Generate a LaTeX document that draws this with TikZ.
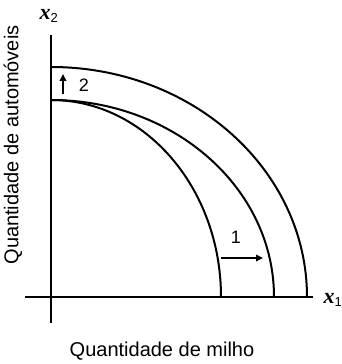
\documentclass[tikz,border=0pt]{standalone}
\usepackage{fontspec}
\setmainfont{Liberation Sans}
\newfontfamily\serifx{Liberation Serif}
\usetikzlibrary{arrows.meta}
\begin{document}
\begin{tikzpicture}[x=1pt,y=1pt,
  axis/.style={line width=2.2pt},
  ppf/.style={line width=2pt},
  shiftarrow/.style={line width=1.8pt,-{Triangle[length=7pt,width=6.5pt]}},
  lab/.style={font=\fontsize{20}{23}\selectfont, inner sep=0pt},
  num/.style={font=\fontsize{18}{21}\selectfont, inner sep=0pt},
  var/.style={font=\serifx\bfseries\itshape\fontsize{22}{24}\selectfont, inner sep=0pt}]
\useasboundingbox (0,0) rectangle (342,364);
% axes
\coordinate (O) at (51,67);
\coordinate (ytop) at (51,329);
\coordinate (ybot) at (51,41);
\coordinate (xleft) at (25,67);
\coordinate (xright) at (313,67);
\draw[axis] (ybot) -- (ytop);
\draw[axis] (xleft) -- (xright);
% curves
\coordinate (A) at (51,264);
\coordinate (B) at (51,297);
\draw[ppf] (A) arc[start angle=90,end angle=0,x radius=170,y radius=197];
\draw[ppf] (A) arc[start angle=90,end angle=0,x radius=223,y radius=197];
\draw[ppf] (B) arc[start angle=90,end angle=0,x radius=256,y radius=230];
% shift arrows
\coordinate (a2s) at (63,270);
\coordinate (a2e) at (63,290);
\draw[shiftarrow] (a2s) -- (a2e);
\node[num] (n2) at (84,279) {2};
\coordinate (a1s) at (221,106);
\coordinate (a1e) at (263,106);
\draw[shiftarrow] (a1s) -- (a1e);
\node[num] (n1) at (236,127) {1};
% labels
\node[var] (x2) at (49,348) {x\textsubscript{\normalfont\fontsize{13}{14}\selectfont 2}};
\node[var] (x1) at (333,64) {x\textsubscript{\normalfont\fontsize{13}{14}\selectfont 1}};
\node[lab] (xl) at (162,13) {Quantidade de milho};
\node[lab, rotate=90] (yl) at (13,219) {Quantidade de automóveis};
\end{tikzpicture}
\end{document}
